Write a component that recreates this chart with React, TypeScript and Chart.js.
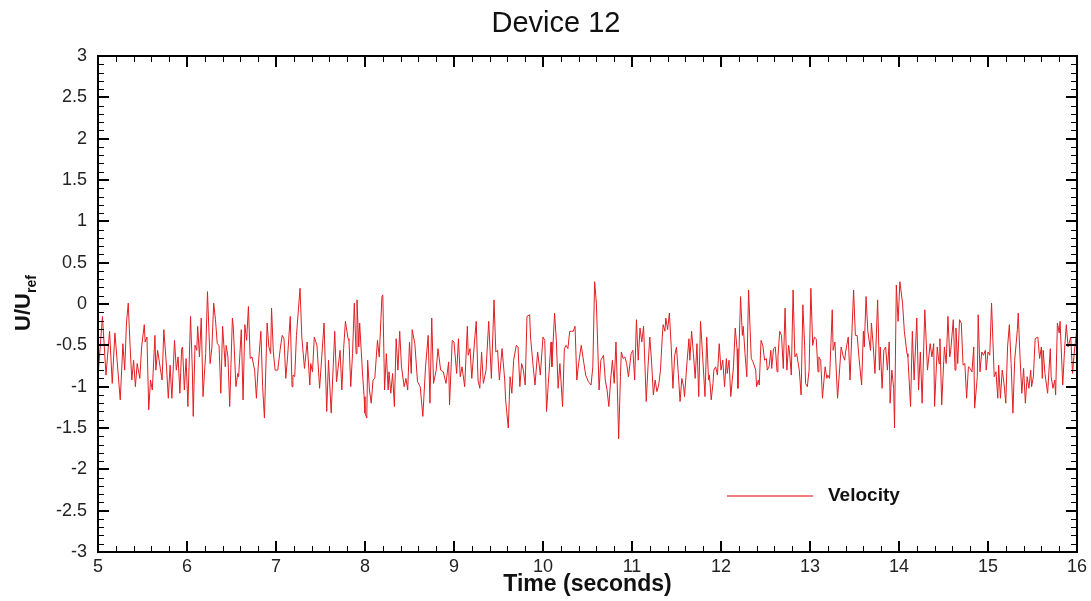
import React, { useEffect, useRef } from "react";
import { Chart, registerables } from "chart.js";

Chart.register(...registerables);

const chartTitle = "Device 12";
const xAxisTitle = "Time (seconds)";
const yAxisMain = "U/U";
const yAxisSub = "ref";
const legendLabel = "Velocity";

const xMin = 5;
const xMax = 16;
const xMajorStep = 1;
const xMinorStep = 0.2;
const yMin = -3;
const yMax = 3;
const yMajorStep = 0.5;
const yMinorStep = 0.1;

const timeSec = [
  5.00, 5.05, 5.09, 5.13, 5.16, 5.19, 5.25, 5.28, 5.30, 5.32, 5.34, 5.36, 5.38, 5.40, 5.42, 5.44, 5.47, 5.49, 5.52, 5.53,
  5.55, 5.57, 5.59, 5.61, 5.64, 5.65, 5.67, 5.70, 5.72, 5.74, 5.77, 5.79, 5.81, 5.83, 5.86, 5.88, 5.90, 5.92, 5.94, 5.95,
  5.97, 5.99, 6.01, 6.04, 6.06, 6.07, 6.09, 6.11,
  6.12, 6.14, 6.16, 6.18, 6.21, 6.23, 6.26, 6.28, 6.30, 6.32, 6.34, 6.36, 6.38, 6.40, 6.43, 6.44, 6.46, 6.48, 6.51, 6.52,
  6.55, 6.57, 6.58, 6.61, 6.63, 6.65, 6.67, 6.69, 6.71, 6.73, 6.76, 6.78, 6.80, 6.83, 6.85, 6.87, 6.90, 6.92, 6.94, 6.95,
  6.97, 6.99, 7.02, 7.05, 7.07, 7.09, 7.11, 7.13, 7.16, 7.18, 7.19, 7.21, 7.23,
  7.27, 7.29, 7.32, 7.35, 7.38, 7.39, 7.41, 7.43, 7.46, 7.49, 7.54, 7.57, 7.59, 7.62, 7.66, 7.68, 7.72, 7.74, 7.76, 7.78,
  7.81, 7.82, 7.84, 7.86, 7.88, 7.90, 7.91, 7.93, 7.94, 7.97, 7.99, 8.00, 8.02, 8.03, 8.05, 8.07, 8.09, 8.11, 8.14, 8.16,
  8.19, 8.20, 8.22, 8.24, 8.26, 8.27, 8.29, 8.31, 8.33, 8.35, 8.37,
  8.39, 8.41, 8.44, 8.46, 8.48, 8.50, 8.52, 8.53, 8.56, 8.59, 8.62, 8.65, 8.68, 8.71, 8.73, 8.75, 8.77, 8.80, 8.82, 8.85,
  8.88, 8.91, 8.94, 8.95, 8.98, 9.00, 9.03, 9.05, 9.07, 9.09, 9.12, 9.15, 9.16, 9.18, 9.20, 9.23, 9.25, 9.27, 9.29, 9.31,
  9.33, 9.36, 9.39, 9.42, 9.45, 9.47, 9.49, 9.51,
  9.54, 9.57, 9.58, 9.61, 9.63, 9.65, 9.67, 9.70, 9.72, 9.74, 9.76, 9.78, 9.80, 9.82, 9.85, 9.86, 9.89, 9.91, 9.94, 9.97,
  10.00, 10.02, 10.04, 10.06, 10.09, 10.10, 10.13, 10.15, 10.17, 10.19, 10.22, 10.24, 10.26, 10.28, 10.30, 10.32, 10.34, 10.36, 10.38, 10.40,
  10.43, 10.46, 10.48, 10.51, 10.54, 10.56, 10.58, 10.60, 10.62, 10.63,
  10.65, 10.68, 10.70, 10.72, 10.74, 10.76, 10.78, 10.80, 10.82, 10.83, 10.85, 10.87, 10.88, 10.90, 10.92, 10.94, 10.96, 10.99, 11.01, 11.03,
  11.05, 11.07, 11.09, 11.11, 11.13, 11.16, 11.18, 11.20, 11.22, 11.24, 11.26, 11.28, 11.30, 11.32, 11.34, 11.35, 11.37, 11.38, 11.40, 11.42,
  11.44, 11.46, 11.48, 11.50, 11.52, 11.54, 11.56, 11.58, 11.59, 11.62, 11.64, 11.65, 11.67, 11.69, 11.71, 11.73, 11.75,
  11.77, 11.79, 11.82, 11.84, 11.86, 11.87, 11.89, 11.91, 11.92, 11.94, 11.96, 11.98, 12.00, 12.02, 12.04, 12.06, 12.07, 12.09, 12.11, 12.14,
  12.16, 12.18, 12.19, 12.22, 12.24, 12.25, 12.27, 12.29, 12.31, 12.34, 12.36, 12.39, 12.40, 12.42, 12.43, 12.45, 12.47, 12.49, 12.51, 12.52,
  12.54, 12.56, 12.57, 12.59, 12.61, 12.63, 12.64, 12.66, 12.68, 12.70, 12.72, 12.74, 12.76, 12.77, 12.79, 12.81, 12.83, 12.85,
  12.88, 12.90, 12.92, 12.94, 12.95, 12.97, 12.99, 13.01, 13.03, 13.05, 13.07, 13.09, 13.10, 13.12, 13.14, 13.17, 13.19, 13.20, 13.22, 13.25,
  13.26, 13.28, 13.31, 13.35, 13.37, 13.39, 13.40, 13.43, 13.45, 13.49, 13.51, 13.53, 13.55, 13.56, 13.58, 13.60, 13.61, 13.63, 13.65, 13.68,
  13.69, 13.71, 13.73, 13.76, 13.78, 13.79, 13.81, 13.83, 13.85, 13.87, 13.89, 13.90, 13.92, 13.94, 13.95, 13.97, 13.99,
  14.01, 14.04, 14.06, 14.09, 14.10, 14.13, 14.15, 14.17, 14.20, 14.22, 14.24, 14.26, 14.29, 14.32, 14.35, 14.37, 14.39, 14.40, 14.43, 14.45,
  14.46, 14.48, 14.51, 14.53, 14.55, 14.57, 14.58, 14.61, 14.63, 14.64, 14.66, 14.68, 14.70, 14.72, 14.74, 14.76, 14.78, 14.80, 14.82, 14.84,
  14.85, 14.88, 14.89, 14.91, 14.93, 14.95, 14.97, 14.98, 15.00, 15.02, 15.04, 15.07, 15.09, 15.11,
  15.12, 15.14, 15.16, 15.18, 15.20, 15.22, 15.24, 15.26, 15.28, 15.30, 15.33, 15.34, 15.36, 15.38, 15.40, 15.42, 15.44, 15.46, 15.48, 15.49,
  15.51, 15.53, 15.56, 15.58, 15.60, 15.61, 15.62, 15.64, 15.67, 15.70, 15.71, 15.73, 15.75, 15.76, 15.78, 15.80, 15.81, 15.84, 15.86, 15.88,
  15.90, 15.93, 15.95, 15.97, 16.00,
];

const velocity = [
  -0.88, -0.15, -0.86, -0.33, -0.96, -0.35, -1.16, -0.48, -0.80, -0.23, 0.01, -0.50, -0.92, -0.68, -1.00, -0.72, -0.90, -0.52, -0.25, -0.46,
  -0.40, -1.28, -0.92, -1.04, -0.38, -0.80, -0.56, -0.78, -0.92, -0.31, -0.76, -1.14, -0.74, -1.14, -0.44, -0.80, -0.64, -1.08, -0.54, -0.52,
  -1.04, -0.66, -1.24, -0.15, -0.80, -1.36, -0.50, -0.56,
  -0.27, -0.64, -0.17, -1.12, -0.60, 0.15, -0.72, -0.52, 0.01, -0.19, -0.48, -0.50, -1.08, -0.27, -0.76, -0.50, -0.64, -1.24, -0.17, -0.27,
  -1.00, -0.84, -0.88, -0.31, -1.16, -0.25, -0.44, -0.03, -0.66, -0.64, -0.80, -1.14, -0.76, -0.33, -1.00, -1.38, -0.23, -0.52, -0.60, -0.05,
  -0.58, -0.80, -0.80, -0.52, -0.38, -0.42, -0.90, -0.64, -0.15, -1.00, -0.86, -0.88, -0.38,
  0.19, -0.40, -0.78, -0.46, -0.98, -0.72, -0.82, -0.40, -0.50, -1.02, -0.23, -1.30, -0.68, -1.32, -0.33, -0.94, -0.56, -1.04, -0.54, -0.21,
  -0.42, -0.44, -1.00, -0.60, 0.01, -0.60, 0.05, -0.52, -0.23, -0.80, -1.12, -1.32, -1.38, -0.68, -1.04, -1.20, -0.92, -0.90, -0.44, -0.64,
  0.09, 0.11, -1.04, -0.60, -1.04, -0.82, -1.08, -0.84, -1.24, -0.42, -0.80,
  -0.33, -0.76, -1.00, -0.90, -1.04, -0.46, -0.84, -0.31, -0.48, -0.94, -1.00, -1.36, -0.76, -0.38, -1.20, -0.17, -0.96, -0.80, -0.54, -0.80,
  -0.82, -0.96, -0.70, -1.22, -0.44, -0.46, -0.84, -0.42, -0.88, -0.76, -1.00, -0.27, -0.62, -0.54, -0.90, -0.46, -0.21, -0.92, -1.02, -0.58,
  -0.96, -0.80, -0.21, -0.90, 0.05, -0.58, -0.56, -0.92,
  -0.54, -0.92, -1.16, -1.50, -0.88, -1.08, -0.68, -0.50, -0.52, -1.00, -0.72, -0.80, -0.98, -0.15, -0.13, -0.40, -0.76, -0.98, -0.58, -0.86,
  -0.40, -0.44, -1.30, -0.96, -0.46, -0.76, -0.11, -0.44, -1.02, -0.72, -1.24, -0.54, -0.50, -0.54, -0.33, -0.33, -0.33, -0.27, -0.92, -0.72,
  -0.50, -0.72, -0.86, -0.94, -0.98, -0.76, 0.27, 0.01, -0.68, -1.04,
  -0.68, -0.62, -0.92, -1.04, -1.24, -0.92, -0.68, -0.96, -0.46, -0.80, -1.63, -0.88, -0.58, -0.66, -0.64, -0.72, -0.88, -0.60, -0.56, -0.92,
  -0.19, -0.68, -0.29, -0.46, -0.27, -1.18, -0.76, -0.40, -0.70, -1.10, -0.92, -1.06, -0.98, -0.80, -0.40, -0.25, -0.33, -0.17, -0.31, -0.11,
  -0.50, -1.02, -0.62, -0.52, -0.84, -1.18, -0.90, -1.00, -1.12, -0.68, -0.42, -0.68, -0.33, -0.60, -0.90, -0.48, -1.12,
  -0.21, -0.56, -1.12, -0.40, -0.92, -0.86, -1.16, -0.96, -0.80, -0.76, -0.86, -0.48, -0.80, -0.68, -1.00, -0.66, -0.84, -0.68, -1.12, -0.76,
  -0.29, -0.54, -1.02, 0.09, -0.38, -0.27, -0.60, -0.88, 0.17, -0.66, -0.70, -0.80, -1.00, -0.92, -0.98, -0.44, -0.50, -0.68, -0.66, -0.80,
  -0.76, -0.56, -0.78, -0.54, -0.52, -0.82, -0.64, -0.33, -0.38, -0.78, -0.05, -0.80, -0.50, -0.58, -0.86, 0.17, -0.64, -0.60,
  -0.80, -1.10, -0.01, -0.50, -0.96, -1.00, -0.80, 0.19, -0.50, -0.40, -0.42, -0.82, -0.64, -0.68, -1.14, -0.76, -0.90, -0.86, -0.90, -0.07,
  -0.56, -0.46, -1.14, -0.52, -0.62, -0.68, -0.58, -0.40, -0.92, 0.17, -0.38, -0.38, -0.64, -0.76, -0.98, -0.33, -0.52, 0.09, -0.33, -0.56,
  -0.23, -0.50, -0.84, 0.05, -0.80, -0.52, -1.02, -0.56, -0.52, -0.80, -0.46, -1.20, -0.80, -1.02, -1.50, 0.23, -0.21,
  0.27, 0.01, -0.33, -0.60, -0.64, -1.24, -0.33, -0.92, -0.17, -1.04, -0.58, -1.20, -0.07, -0.80, -0.48, -0.64, -0.48, -1.24, -0.52, -0.72,
  -0.42, -1.22, -0.52, -0.72, -0.15, -0.64, -0.58, -0.19, -0.80, -0.29, -0.72, -0.19, -0.23, -0.74, -0.72, -1.14, -0.76, -0.78, -0.82, -0.52,
  -1.26, -0.88, -0.13, -0.82, -0.58, -0.62, -0.56, -0.80, -0.58, -0.62, 0.01, -0.88, -0.82, -1.14,
  -0.74, -1.14, -0.80, -0.96, -1.20, -0.52, -0.25, -0.72, -1.32, -0.68, -0.31, -0.11, -0.64, -1.08, -0.78, -1.20, -0.88, -1.02, -0.80, -1.00,
  -0.88, -0.42, -0.40, -0.66, -0.52, -0.90, -0.56, -0.84, -1.08, -0.54, -0.88, -1.02, -0.92, -1.10, -0.23, -0.35, -0.21, -0.98, -0.56, -0.25,
  -0.52, -0.40, -0.84, -0.58, -0.29,
];

const FONT = '"Liberation Sans", Arial, Helvetica, sans-serif';
const LINE_COLOR = "rgb(226, 30, 34)";
const LEGEND_LINE_COLOR = "rgb(238, 80, 85)";

const decorPlugin = {
  id: "decor",
  afterDraw(chart: any) {
    const { ctx, chartArea: a, scales } = chart;
    const xs = scales.x;
    const ys = scales.y;
    ctx.save();
    ctx.strokeStyle = "#000";

    // minor ticks (inside, all four sides)
    ctx.lineWidth = 1;
    ctx.beginPath();
    const nx = Math.round((xMax - xMin) / xMinorStep);
    const perX = Math.round(xMajorStep / xMinorStep);
    for (let i = 1; i < nx; i++) {
      if (i % perX === 0) continue;
      const px = Math.round(xs.getPixelForValue(xMin + i * xMinorStep)) + 0.5;
      ctx.moveTo(px, a.bottom);
      ctx.lineTo(px, a.bottom - 6);
      ctx.moveTo(px, a.top);
      ctx.lineTo(px, a.top + 6);
    }
    const ny = Math.round((yMax - yMin) / yMinorStep);
    const perY = Math.round(yMajorStep / yMinorStep);
    for (let i = 1; i < ny; i++) {
      if (i % perY === 0) continue;
      const py = Math.round(ys.getPixelForValue(yMin + i * yMinorStep)) + 0.5;
      ctx.moveTo(a.left, py);
      ctx.lineTo(a.left + 6, py);
      ctx.moveTo(a.right, py);
      ctx.lineTo(a.right - 6, py);
    }
    ctx.stroke();

    // major ticks
    ctx.lineWidth = 2;
    ctx.beginPath();
    for (let v = xMin + xMajorStep; v < xMax - 1e-9; v += xMajorStep) {
      const px = Math.round(xs.getPixelForValue(v));
      ctx.moveTo(px, a.bottom);
      ctx.lineTo(px, a.bottom - 11);
      ctx.moveTo(px, a.top);
      ctx.lineTo(px, a.top + 11);
    }
    for (let v = yMin + yMajorStep; v < yMax - 1e-9; v += yMajorStep) {
      const py = Math.round(ys.getPixelForValue(v));
      ctx.moveTo(a.left, py);
      ctx.lineTo(a.left + 11, py);
      ctx.moveTo(a.right, py);
      ctx.lineTo(a.right - 11, py);
    }
    ctx.stroke();

    // frame
    ctx.lineWidth = 2;
    ctx.strokeRect(a.left, a.top, a.right - a.left, a.bottom - a.top);

    // title
    ctx.fillStyle = "#111";
    ctx.font = `29px ${FONT}`;
    ctx.textAlign = "center";
    ctx.textBaseline = "middle";
    ctx.fillText(chartTitle, 556, 24);

    // x axis title
    ctx.font = `bold 23px ${FONT}`;
    ctx.fillText(xAxisTitle, (a.left + a.right) / 2, 585);

    // legend
    ctx.strokeStyle = LEGEND_LINE_COLOR;
    ctx.lineWidth = 1.5;
    ctx.beginPath();
    ctx.moveTo(727, 496);
    ctx.lineTo(813, 496);
    ctx.stroke();
    ctx.fillStyle = "#111";
    ctx.font = `bold 19px ${FONT}`;
    ctx.textAlign = "left";
    ctx.fillText(legendLabel, 828, 496);

    // y axis title (rotated, with subscript)
    ctx.save();
    ctx.translate(30, 303);
    ctx.rotate(-Math.PI / 2);
    ctx.textBaseline = "alphabetic";
    ctx.font = `bold 22px ${FONT}`;
    const w1 = ctx.measureText(yAxisMain).width;
    ctx.font = `bold 14px ${FONT}`;
    const w2 = ctx.measureText(yAxisSub).width;
    const start = -(w1 + w2) / 2;
    ctx.font = `bold 22px ${FONT}`;
    ctx.fillText(yAxisMain, start, 0);
    ctx.font = `bold 14px ${FONT}`;
    ctx.fillText(yAxisSub, start + w1, 6);
    ctx.restore();

    ctx.restore();
  },
};

export default function App() {
  const canvasRef = useRef<HTMLCanvasElement | null>(null);

  useEffect(() => {
    const canvas = canvasRef.current;
    if (!canvas) return;
    const points = timeSec.map((t, i) => ({ x: t, y: velocity[i] }));
    const chart = new Chart(canvas, {
      type: "line",
      data: {
        datasets: [
          {
            label: legendLabel,
            data: points,
            borderColor: LINE_COLOR,
            borderWidth: 1,
            pointRadius: 0,
            tension: 0,
            fill: false,
          },
        ],
      },
      options: {
        animation: false,
        responsive: true,
        maintainAspectRatio: false,
        layout: { padding: { top: 56, right: 13, left: 0, bottom: 0 } },
        plugins: {
          legend: { display: false },
          title: { display: false },
          tooltip: { enabled: false },
        },
        scales: {
          x: {
            type: "linear",
            min: xMin,
            max: xMax,
            grid: { display: false, drawTicks: false },
            border: { display: false },
            ticks: {
              stepSize: xMajorStep,
              padding: 4,
              color: "#222",
              font: { family: FONT, size: 18 },
              maxRotation: 0,
              callback: (v: any) => String(Math.round(Number(v) * 10) / 10),
            },
            afterFit: (s: any) => {
              s.height = 49;
            },
          },
          y: {
            type: "linear",
            min: yMin,
            max: yMax,
            grid: { display: false, drawTicks: false },
            border: { display: false },
            ticks: {
              stepSize: yMajorStep,
              padding: 11,
              color: "#222",
              font: { family: FONT, size: 18 },
              callback: (v: any) => String(Math.round(Number(v) * 10) / 10),
            },
            afterFit: (s: any) => {
              s.width = 98;
            },
          },
        },
      },
      plugins: [decorPlugin],
    });
    return () => chart.destroy();
  }, []);

  return (
    <div style={{ position: "absolute", left: 0, top: 0, width: 1091, height: 601, background: "#fff" }}>
      <canvas ref={canvasRef} />
    </div>
  );
}
